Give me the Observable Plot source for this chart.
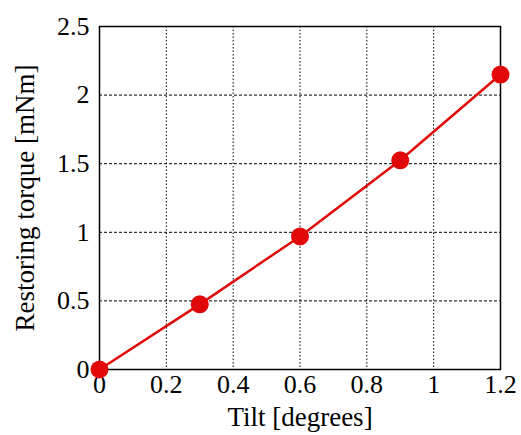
<!DOCTYPE html>
<html><head><meta charset="utf-8">
<script src="https://cdn.jsdelivr.net/npm/d3@7"></script>
<script src="https://cdn.jsdelivr.net/npm/@observablehq/plot@0.6"></script>
<style>
body{margin:0;background:#fff}
svg text{font-family:'Liberation Serif','Times New Roman',serif;fill:#000}
</style>
</head><body><div id="chart"></div>
<script>
const tilt = [0, 0.3, 0.6, 0.9, 1.2];
const torque = [0, 0.475, 0.97, 1.525, 2.15];
const xTicks = [0, 0.2, 0.4, 0.6, 0.8, 1, 1.2];
const yTicks = [0, 0.5, 1, 1.5, 2, 2.5];
const data = tilt.map((t, i) => ({tilt: t, torque: torque[i]}));
const red = "#e00808";
const fmt = d => String(d);
const chart = Plot.plot({
  width: 521, height: 435,
  marginLeft: 99, marginRight: 21, marginTop: 26, marginBottom: 66,
  style: {background: "#fff", color: "#000", fontFamily: "'Liberation Serif','Times New Roman',serif"},
  x: {domain: [0, 1.2]},
  y: {domain: [0, 2.5]},
  marks: [
    Plot.gridX(xTicks.slice(1, -1), {stroke: "#000", strokeOpacity: 1, strokeDasharray: "1.5,2", strokeWidth: 1}),
    Plot.gridY(yTicks.slice(1, -1), {stroke: "#000", strokeOpacity: 1, strokeDasharray: "3,2", strokeWidth: 1}),
    Plot.frame({stroke: "#000", strokeWidth: 1.5}),
    Plot.axisX(xTicks, {tickSize: 0, tickPadding: 5, tickFormat: fmt, fontSize: 26, fontVariant: "normal", label: null}),
    Plot.axisX({ticks: [], label: "Tilt [degrees]", labelAnchor: "center", labelArrow: "none", labelOffset: 56, fontSize: 27}),
    Plot.axisY(yTicks, {tickSize: 0, tickPadding: 10, tickFormat: fmt, fontSize: 26, fontVariant: "normal", label: null}),
    Plot.axisY({ticks: [], label: "Restoring torque [mNm]", labelAnchor: "center", labelArrow: "none", labelOffset: 85, fontSize: 27}),
    Plot.line(data, {x: "tilt", y: "torque", stroke: red, strokeWidth: 2.5}),
    Plot.dot(data, {x: "tilt", y: "torque", r: 9, fill: red, stroke: "none"})
  ]
});
document.getElementById("chart").append(chart);
</script></body></html>
